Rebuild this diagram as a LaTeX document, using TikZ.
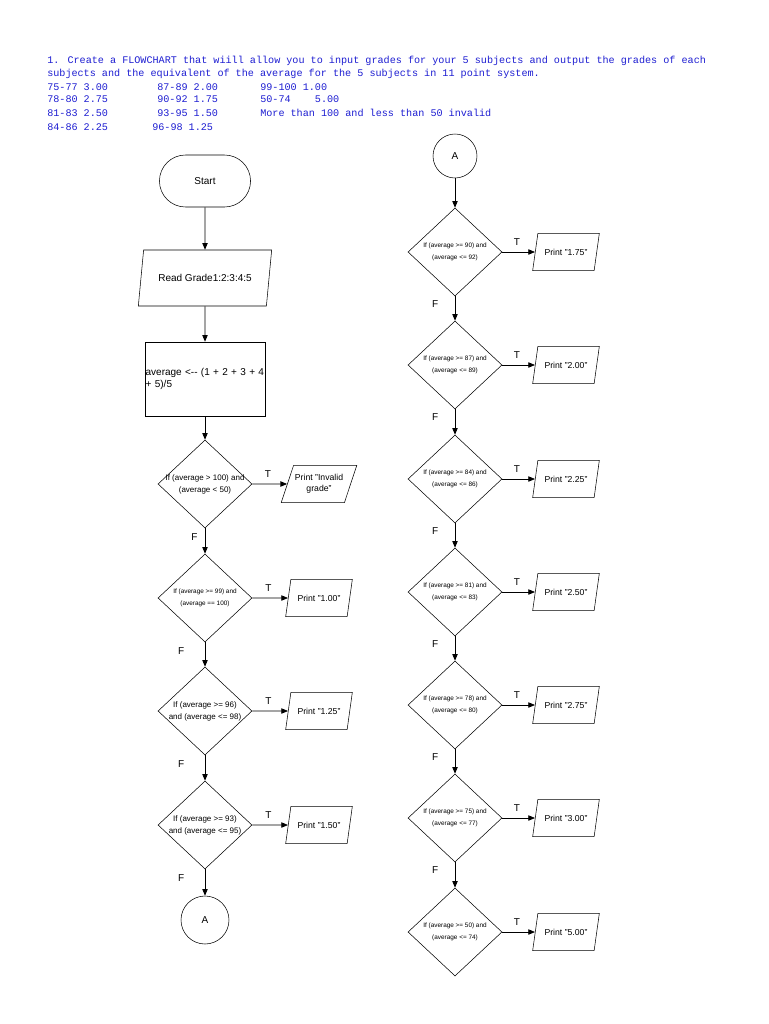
\documentclass[tikz,border=0pt]{standalone}
\usepackage{fontspec}
\setmainfont{Liberation Sans}
\newfontfamily\hdrfont{Liberation Mono}
\usetikzlibrary{shapes.geometric,shapes.misc,arrows.meta}
\definecolor{hdr}{RGB}{30,30,210}
\begin{document}
\begin{tikzpicture}[x=0.75pt,y=-0.75pt,
  every node/.style={font=\fontsize{7.5}{9}\selectfont},
  dia/.style={draw,diamond,minimum width=70.5pt,minimum height=66pt,inner sep=0pt},
  dtxt/.style={font=\fontsize{4.8}{9}\selectfont,align=center},
  dtxtb/.style={font=\fontsize{6}{9}\selectfont,align=center},
  io/.style={draw,trapezium,trapezium left angle=60,trapezium right angle=120,trapezium stretches body,minimum width=50pt,minimum height=28pt,inner sep=1pt,align=center,font=\fontsize{6.5}{8}\selectfont},
  arr/.style={-{Triangle[length=5pt,width=4pt]},line width=0.6pt},
  lab/.style={font=\fontsize{7.5}{9}\selectfont},
  hl/.style={anchor=base west,inner sep=0pt,text=hdr,font=\hdrfont\fontsize{7.6}{8}\selectfont}]
\useasboundingbox (0,0) rectangle (768,1024);
\fill[white] (0,0) rectangle (768,1024);
% header
\node[hl] (h1) at (47,64) {1. Create a FLOWCHART that wiill allow you to input grades for your 5 subjects and output the grades of each};
\node[hl] (h2) at (47,77) {subjects and the equivalent of the average for the 5 subjects in 11 point system.};
\node[hl] (h3a) at (47,90) {75-77 3.00}; \node[hl] (h3b) at (157,90) {87-89 2.00}; \node[hl] (h3c) at (260,90) {99-100 1.00};
\node[hl] (h4a) at (47,103) {78-80 2.75}; \node[hl] (h4b) at (157,103) {90-92 1.75}; \node[hl] (h4c) at (260,103) {50-74\ \ \ \ 5.00};
\node[hl] (h5a) at (47,117) {81-83 2.50}; \node[hl] (h5b) at (157,117) {93-95 1.50}; \node[hl] (h5c) at (260,117) {More than 100 and less than 50 invalid};
\node[hl] (h6a) at (47,130) {84-86 2.25}; \node[hl] (h6b) at (152,130) {96-98 1.25};
% left column
\node[draw,rounded rectangle,minimum width=75pt,minimum height=39pt] (start) at (205,181) {Start};
\node[draw,trapezium,trapezium left angle=72,trapezium right angle=108,trapezium stretches body,minimum width=100pt,minimum height=42pt] (read) at (205,278) {Read Grade1:2:3:4:5};
\node[draw,minimum width=90pt,minimum height=55.5pt] (proc) at (205,379) {};
\node[text width=89pt,align=left,inner sep=0pt] (proct) at (205,379) {average <{-}{-} (1 + 2 + 3 + 4 + 5)/5};
\draw[arr] (start) -- (read);
\draw[arr] (read) -- (proc);
\node[dia] (d1) at (205,484) {}; \node[dtxtb] at (d1) {If (average > 100) and\\(average < 50)};
\node[dia] (d2) at (205,598) {}; \node[dtxt] at (d2) {If (average >= 99) and\\(average == 100)};
\node[dia] (d3) at (205,711) {}; \node[dtxtb] at (d3) {If (average >= 96)\\and (average <= 98)};
\node[dia] (d4) at (205,825) {}; \node[dtxtb] at (d4) {If (average >= 93)\\and (average <= 95)};
\node[draw,circle,minimum size=36pt] (aL) at (205,920) {A};
\draw[arr] (proc) -- (d1);
\draw[arr] (d1) -- node[lab,pos=0.35,left=2pt] {F} (d2);
\draw[arr] (d2) -- node[lab,pos=0.35,left=12pt] {F} (d3);
\draw[arr] (d3) -- node[lab,pos=0.35,left=12pt] {F} (d4);
\draw[arr] (d4) -- node[lab,pos=0.35,left=12pt] {F} (aL);
\node[io] (p1) at (319,484) {Print "Invalid\\grade"};
\node[io] (p2) at (319,598) {Print "1.00"};
\node[io] (p3) at (319,711) {Print "1.25"};
\node[io] (p4) at (319,825) {Print "1.50"};
\foreach \i in {1,...,4}{\draw[arr] (d\i.east) -- node[lab,above=1pt,pos=0.45] {T} (p\i);}
% right column
\node[draw,circle,minimum size=33pt] (aR) at (455,156) {A};
\foreach \i/\y/\a/\b/\t in {1/252/90/92/1.75,2/365/87/89/2.00,3/479/84/86/2.25,4/592/81/83/2.50,5/705/78/80/2.75,6/818/75/77/3.00,7/932/50/74/5.00}{
  \node[dia] (r\i) at (455,\y) {};
  \node[dtxt] (rt\i) at (r\i) {If (average >= \a) and\\(average <= \b)};
  \node[io] (q\i) at (566,\y) {Print "\t"};
  \draw[arr] (r\i.east) -- node[lab,above=1pt,pos=0.45] {T} (q\i);
}
\draw[arr] (aR) -- (r1);
\foreach \i/\j in {1/2,2/3,3/4,4/5,5/6,6/7}{\draw[arr] (r\i) -- node[lab,pos=0.3,left=9pt] {F} (r\j);}
\end{tikzpicture}
\end{document}
